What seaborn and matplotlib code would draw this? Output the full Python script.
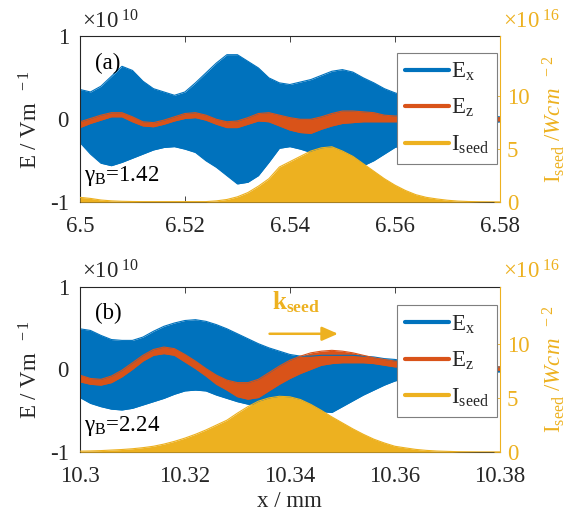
import numpy as np
import pandas as pd
import matplotlib.pyplot as plt
import seaborn as sns
from matplotlib.lines import Line2D

# sample positions along x (mm), one every 0.002 mm
x_a = np.linspace(6.50, 6.58, 41)
x_b = np.linspace(10.30, 10.38, 41)

# panel (a): E in 1e10 V/m (envelope of the fast oscillation), I in 1e16 W/cm^2
ex_top_a = [0.36, 0.33, 0.40, 0.52, 0.64, 0.59, 0.46, 0.37, 0.33, 0.29,
            0.33, 0.44, 0.56, 0.68, 0.78, 0.78, 0.70, 0.62, 0.50, 0.44,
            0.42, 0.45, 0.48, 0.53, 0.58, 0.60, 0.57, 0.50, 0.44, 0.37,
            0.32, 0.28, 0.24, 0.20, 0.16, 0.12, 0.09, 0.07, 0.05, 0.04, 0.03]
ex_bot_a = [-0.28, -0.42, -0.53, -0.56, -0.52, -0.47, -0.42, -0.37, -0.34, -0.33,
            -0.36, -0.40, -0.50, -0.58, -0.68, -0.78, -0.76, -0.68, -0.52, -0.35,
            -0.33, -0.36, -0.40, -0.40, -0.42, -0.44, -0.50, -0.56, -0.50, -0.42,
            -0.34, -0.30, -0.25, -0.20, -0.16, -0.12, -0.09, -0.07, -0.05, -0.04, -0.03]
ez_top_a = [-0.03, 0.01, 0.05, 0.08, 0.08, 0.03, -0.03, -0.04, -0.01, 0.03,
            0.07, 0.08, 0.05, 0.00, -0.03, -0.02, 0.02, 0.07, 0.08, 0.05,
            0.02, 0.00, 0.00, 0.03, 0.07, 0.10, 0.10, 0.09, 0.08, 0.05,
            0.04, 0.04, 0.04, 0.03, 0.03, 0.03, 0.03, 0.02, 0.02, 0.02, 0.02]
ez_bot_a = [-0.10, -0.05, -0.01, 0.03, 0.03, -0.03, -0.08, -0.09, -0.06, -0.02,
            0.01, 0.02, -0.01, -0.06, -0.10, -0.10, -0.06, -0.02, -0.03, -0.08,
            -0.13, -0.16, -0.17, -0.12, -0.08, -0.05, -0.04, -0.03, -0.03, -0.03,
            -0.03, -0.03, -0.03, -0.03, -0.03, -0.03, -0.02, -0.02, -0.02, -0.02, -0.02]
iseed_a = [0.45, 0.35, 0.20, 0.12, 0.08, 0.06, 0.05, 0.05, 0.05, 0.05,
           0.05, 0.05, 0.05, 0.12, 0.25, 0.50, 0.90, 1.50, 2.20, 3.30,
           3.80, 4.30, 4.80, 5.10, 5.20, 4.80, 4.30, 3.60, 2.90, 2.20,
           1.60, 1.10, 0.70, 0.45, 0.30, 0.18, 0.10, 0.06, 0.04, 0.03, 0.02]

# panel (b)
ex_top_b = [0.49, 0.47, 0.41, 0.36, 0.35, 0.35, 0.39, 0.46, 0.52, 0.56,
            0.59, 0.60, 0.58, 0.54, 0.49, 0.43, 0.37, 0.31, 0.26, 0.22,
            0.18, 0.16, 0.16, 0.17, 0.17, 0.17, 0.17, 0.16, 0.15, 0.13,
            0.12, 0.10, 0.09, 0.08, 0.07, 0.06, 0.05, 0.04, 0.04, 0.03, 0.03]
ex_bot_b = [-0.34, -0.41, -0.45, -0.48, -0.49, -0.47, -0.43, -0.39, -0.35, -0.30,
            -0.26, -0.25, -0.26, -0.31, -0.35, -0.39, -0.42, -0.44, -0.46, -0.47,
            -0.48, -0.49, -0.50, -0.51, -0.52, -0.45, -0.38, -0.31, -0.25, -0.19,
            -0.14, -0.11, -0.09, -0.08, -0.07, -0.06, -0.05, -0.04, -0.04, -0.03, -0.03]
ez_top_b = [-0.07, -0.11, -0.12, -0.08, -0.01, 0.08, 0.17, 0.24, 0.27, 0.25,
            0.18, 0.10, 0.01, -0.07, -0.13, -0.16, -0.16, -0.12, -0.04, 0.04,
            0.11, 0.16, 0.20, 0.22, 0.23, 0.22, 0.20, 0.17, 0.14, 0.12,
            0.10, 0.09, 0.08, 0.07, 0.06, 0.05, 0.04, 0.04, 0.03, 0.03, 0.03]
ez_bot_b = [-0.15, -0.18, -0.19, -0.16, -0.09, 0.00, 0.10, 0.17, 0.19, 0.17,
            0.09, 0.01, -0.08, -0.18, -0.25, -0.33, -0.36, -0.34, -0.26, -0.18,
            -0.11, -0.05, 0.00, 0.05, 0.07, 0.08, 0.08, 0.08, 0.07, 0.05,
            0.03, 0.03, 0.02, 0.02, 0.01, 0.01, 0.00, 0.00, -0.01, -0.01, -0.01]
iseed_b = [0.10, 0.12, 0.15, 0.20, 0.25, 0.32, 0.42, 0.55, 0.75, 1.00,
           1.30, 1.65, 2.05, 2.50, 2.95, 3.60, 4.20, 4.70, 5.00, 5.15,
           5.10, 4.85, 4.40, 3.85, 3.25, 2.70, 2.15, 1.65, 1.20, 0.85,
           0.55, 0.40, 0.26, 0.17, 0.11, 0.08, 0.05, 0.04, 0.03, 0.03, 0.03]

xticks_a = [6.50, 6.52, 6.54, 6.56, 6.58]
xticklabels_a = ['6.5', '6.52', '6.54', '6.56', '6.58']
xticks_b = [10.30, 10.32, 10.34, 10.36, 10.38]
xticklabels_b = ['10.3', '10.32', '10.34', '10.36', '10.38']
gamma_b = ['1.42', '2.24']
panel_tags = ['(a)', '(b)']

blue, orange, yellow = '#0072BD', '#D95319', '#EDB120'
dark = '#262626'
fs = 16.5

sns.set_theme(style='white')
plt.rcParams['font.family'] = ['Liberation Serif', 'DejaVu Serif']
plt.rcParams['mathtext.fontset'] = 'custom'
plt.rcParams['mathtext.rm'] = 'Liberation Serif'
plt.rcParams['mathtext.it'] = 'Liberation Serif:italic'
plt.rcParams['mathtext.bf'] = 'Liberation Serif:bold'
plt.rcParams['mathtext.default'] = 'regular'

fig = plt.figure(figsize=(5.88, 5.21), dpi=100)

panels = [
    (x_a, ex_top_a, ex_bot_a, ez_top_a, ez_bot_a, iseed_a, xticks_a, xticklabels_a, 0.612, 15.55),
    (x_b, ex_top_b, ex_bot_b, ez_top_b, ez_bot_b, iseed_b, xticks_b, xticklabels_b, 0.132, 15.25),
]

for k, (x, ext, exb, ezt, ezb, iseed, xt, xtl, bottom, itop) in enumerate(panels):
    df = pd.DataFrame({'x': x, 'ex_top': ext, 'ex_bot': exb,
                       'ez_top': ezt, 'ez_bot': ezb, 'iseed': iseed})
    ax = fig.add_axes([0.136, bottom, 0.714, 0.318])
    ax2 = ax.twinx()

    # E_x band
    ax.fill_between(df['x'], df['ex_bot'], df['ex_top'], color=blue, lw=0)
    sns.lineplot(data=df, x='x', y='ex_top', ax=ax, color=blue, lw=0.8)
    sns.lineplot(data=df, x='x', y='ex_bot', ax=ax, color=blue, lw=0.8)
    # E_z band
    ax.fill_between(df['x'], df['ez_bot'], df['ez_top'], color=orange, lw=0)
    sns.lineplot(data=df, x='x', y='ez_top', ax=ax, color=orange, lw=0.8)
    sns.lineplot(data=df, x='x', y='ez_bot', ax=ax, color=orange, lw=0.8)
    # seed intensity on the right axis
    ax2.fill_between(df['x'], 0, df['iseed'], color=yellow, lw=0)
    sns.lineplot(data=df, x='x', y='iseed', ax=ax2, color=yellow, lw=0.8)

    ax.set_xlim(x[0], x[-1])
    ax.set_ylim(-1, 1)
    ax2.set_ylim(0, itop)
    ax.set_xticks(xt)
    ax.set_xticklabels(xtl)
    ax.set_yticks([-1, 0, 1])
    ax.set_yticklabels(['-1', '0', '1'])
    ax2.set_yticks([0, 5, 10])
    ax2.set_yticklabels(['0', '5', '10'])

    ax.tick_params(axis='both', direction='in', length=4, width=0.6, colors=dark,
                   labelsize=fs, top=True, bottom=True, left=True, right=False)
    ax.tick_params(axis='x', pad=10)
    ax.tick_params(axis='y', pad=8)
    ax2.tick_params(axis='y', direction='in', length=4, width=0.6, colors=yellow,
                    labelsize=fs, pad=5)
    for s in ['top', 'bottom', 'left']:
        ax.spines[s].set_color(dark)
        ax.spines[s].set_linewidth(0.8)
        ax2.spines[s].set_visible(False)
    ax.spines['right'].set_visible(False)
    ax2.spines['right'].set_color(yellow)
    ax2.spines['right'].set_linewidth(0.8)

    ax.set_ylabel('E / Vm $^{\\ -1}$', fontsize=fs, color=dark, labelpad=5)
    ax2.set_ylabel('I$_{seed}$ $\\mathit{/Wcm}$ $^{\\ -2}$', fontsize=fs,
                   color=yellow, labelpad=8)
    ax.set_xlabel('')
    if k == 1:
        ax.set_xlabel('x / mm', fontsize=fs, color=dark, labelpad=3)

    ax.text(0.005, 1.02, '$\\times10^{\\ 10}$', transform=ax.transAxes,
            fontsize=fs, color=dark, ha='left', va='bottom')
    ax2.text(1.008, 1.02, '$\\times10^{\\ 16}$', transform=ax.transAxes,
             fontsize=fs, color=yellow, ha='left', va='bottom')

    ax.text(x[0] + 0.0028, 0.68, panel_tags[k], fontsize=fs, color='black',
            ha='left', va='center')
    ax.text(x[0] + 0.0008, -0.74, '$\\gamma_B$=' + gamma_b[k], fontsize=fs,
            color='black', ha='left', va='baseline')

    handles = [Line2D([], [], color=blue, lw=3),
               Line2D([], [], color=orange, lw=3),
               Line2D([], [], color=yellow, lw=3)]
    leg = ax2.legend(handles, ['$E_x$', '$E_z$', '$I_{seed}$'], loc='upper right',
                     bbox_to_anchor=(0.993, 0.903 if k == 0 else 0.886),
                     fontsize=fs, frameon=True, fancybox=False, framealpha=1,
                     edgecolor='#7f7f7f', handlelength=1.9, handletextpad=0.1,
                     labelspacing=0.62, borderpad=0.35, borderaxespad=0)
    leg.get_frame().set_linewidth(0.8)

    if k == 1:
        ax.text(10.3366, 0.72, '$k_{seed}$', fontsize=18, fontweight='bold',
                color=yellow, ha='left', va='baseline')
        ax.annotate('', xy=(10.3497, 0.43), xytext=(10.3356, 0.43),
                    arrowprops=dict(arrowstyle='-|>,head_length=0.8,head_width=0.35',
                                    color=yellow, lw=1.8))

plt.savefig('out.png', dpi=100)
